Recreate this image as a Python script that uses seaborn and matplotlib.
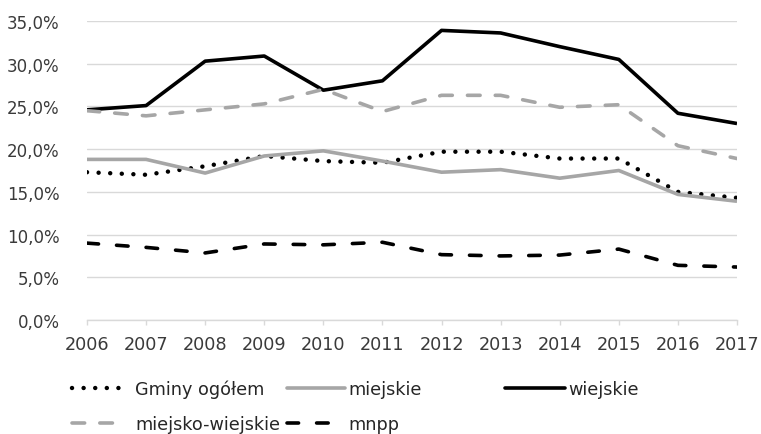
import matplotlib
matplotlib.use("Agg")
import matplotlib.pyplot as plt
import seaborn as sns
import pandas as pd
from matplotlib.lines import Line2D

years = [2006, 2007, 2008, 2009, 2010, 2011, 2012, 2013, 2014, 2015, 2016, 2017]
gminy_ogolem = [17.3, 17.0, 18.0, 19.2, 18.6, 18.4, 19.7, 19.7, 18.9, 18.9, 15.0, 14.3]
miejskie = [18.8, 18.8, 17.2, 19.2, 19.8, 18.6, 17.3, 17.6, 16.6, 17.5, 14.7, 13.9]
wiejskie = [24.6, 25.1, 30.3, 30.9, 26.9, 28.0, 33.9, 33.6, 32.0, 30.5, 24.2, 23.0]
miejsko_wiejskie = [24.5, 23.9, 24.6, 25.3, 27.0, 24.4, 26.3, 26.3, 24.9, 25.2, 20.4, 18.9]
mnpp = [9.0, 8.5, 7.85, 8.9, 8.8, 9.1, 7.65, 7.5, 7.6, 8.3, 6.4, 6.2]
y_ticks = [0, 5, 10, 15, 20, 25, 30, 35]

sns.set_theme(style="white")
plt.rcParams['font.family'] = ['DejaVu Sans']
FS = 12.7

fig = plt.figure(figsize=(7.61, 4.35), dpi=100)
ax = fig.add_axes([87/761, 1-321/435, (737-87)/761, (321-22)/435])

LW = 2.6
series = [
    ("Gminy ogółem", gminy_ogolem, "black", 3.2, (0, (0.01, 2.6)), "round"),
    ("miejskie", miejskie, "#a6a6a6", LW, None, "butt"),
    ("wiejskie", wiejskie, "black", LW, None, "butt"),
    ("miejsko-wiejskie", miejsko_wiejskie, "#a6a6a6", LW, (0, (3.5, 4.2)), "round"),
    ("mnpp", mnpp, "black", LW, (0, (3.2, 5.0)), "round"),
]

handles = {}
for name, vals, col, lw, dash, cap in series:
    df = pd.DataFrame({"year": years, "val": vals})
    sns.lineplot(data=df, x="year", y="val", ax=ax, color=col, lw=lw, zorder=3)
    ln = ax.lines[-1]
    if dash is not None:
        ln.set_linestyle(dash)
    ln.set_dash_capstyle(cap)
    ln.set_solid_capstyle("butt")
    h = Line2D([0], [0], color=col, lw=lw)
    if dash is not None:
        h.set_linestyle(dash)
    h.set_dash_capstyle(cap)
    handles[name] = h

ax.set_xlim(2006, 2017)
ax.set_ylim(0, 35)
ax.set_xticks(years)
ax.set_xticklabels([str(y) for y in years])
ax.set_yticks(y_ticks)
ax.set_yticklabels([f"{v:.1f}".replace(".", ",") + "%" for v in y_ticks])
ax.set_xlabel("")
ax.set_ylabel("")
ax.grid(axis="y", color="#d9d9d9", lw=1)
ax.grid(axis="x", visible=False)
for s in ["top", "right", "left"]:
    ax.spines[s].set_visible(False)
ax.spines["bottom"].set_color("#d9d9d9")
ax.spines["bottom"].set_linewidth(1)
ax.tick_params(axis="x", bottom=True, length=3.6, color="#d9d9d9", width=1,
               labelsize=FS, labelcolor="#3a3a3a", pad=7.5)
ax.tick_params(axis="y", left=False, labelsize=12.0, labelcolor="#3a3a3a", pad=13.7)

em = FS * 100 / 72  # px per em
# (name, handle-left x px, row centre y px, handle length px, text pad px)
legend_items = [
    ("Gminy ogółem", 72, 390, 51, 12),
    ("miejskie", 287, 390, 58, 3),
    ("wiejskie", 505, 390, 60, 3),
    ("miejsko-wiejskie", 72, 425, 53, 10),
    ("mnpp", 287, 425, 53, 8),
]
for name, x0, yc, hl, tp in legend_items:
    leg = fig.legend([handles[name]], [name],
                     loc="center left", bbox_to_anchor=(x0/761, 1-yc/435),
                     frameon=False, fontsize=FS, handlelength=hl/em,
                     handletextpad=tp/em, borderpad=0, borderaxespad=0,
                     labelcolor="#262626")

fig.savefig("out.png", dpi=100)
